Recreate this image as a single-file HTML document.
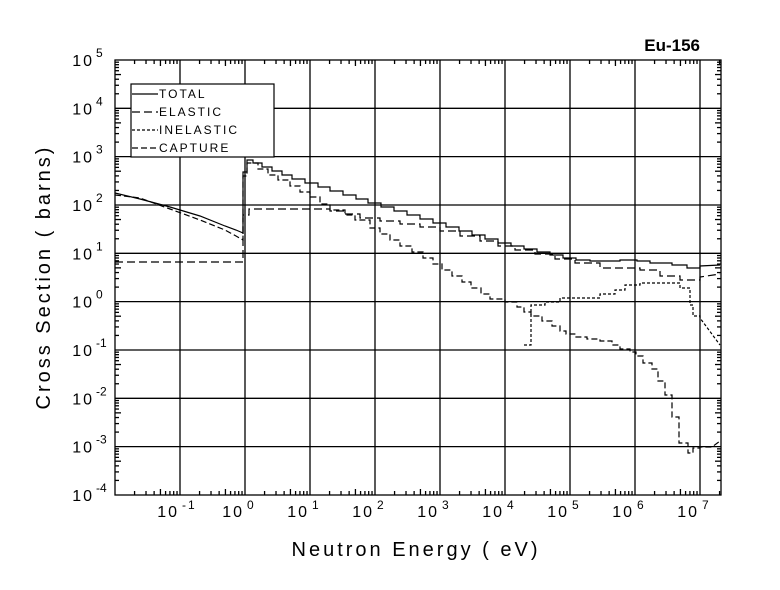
<!DOCTYPE html>
<html><head><meta charset="utf-8"><style>
body{margin:0;background:#fff}
svg{display:block}
text{font-family:"Liberation Sans",sans-serif;fill:#000}
</style></head><body>
<svg id="s" width="780" height="590" xmlns="http://www.w3.org/2000/svg">
<rect width="780" height="590" fill="#fff"/>
<g id="grid" stroke="#000" stroke-width="1.3" fill="none"></g>
<g id="curves" fill="none" stroke="#000" stroke-width="1.2">
<polyline points="115,193 140,199 170,207 200,216 225,226 236,230 243,233 243,172 247,172 247,160 253,160 253,163 262,163 262,167 272,167 272,171 282,171 282,175 292,175 292,179 305,179 305,183 318,183 318,187 330,187 330,191 343,191 343,195 356,195 356,199 368,199 368,203 381,203 381,207 394,207 394,211 407,211 407,215 420,215 420,219 433,219 433,223 446,223 446,227 459,227 459,231 472,231 472,235 485,235 485,239 498,239 498,243 511,243 511,246 524,246 524,249 537,249 537,252 550,252 550,255 563,255 563,258 576,258 576,260 590,260 590,261 620,261 620,260 637,260 637,261 650,261 650,263 672,263 672,265 687,265 687,268 700,268 700,266 720,265"/>
<polyline points="115,262 243,262 243,215 249,215 249,209 330,209 330,211 345,211 345,214 360,214 360,218 380,218 380,221 400,221 400,224 420,224 420,227 440,227 440,231 460,231 460,236 480,236 480,241 498,241 498,246 515,246 515,250 535,250 535,254 555,254 555,259 575,259 575,263 600,263 600,268 640,268 640,270 660,270 660,276 680,276 680,280 700,280 700,277 720,274" stroke-dasharray="8,4"/>
<polyline points="524,345 531,345 531,305 545,305 545,302 560,302 560,298 600,298 600,294 615,294 615,290 625,290 625,285 640,285 640,283 680,283 680,288 690,288 690,305 693,305 693,316 700,316 700,318 720,345" stroke-dasharray="3,2"/>
<polyline points="115,195 140,198 170,209 200,220 225,230 236,236 243,240 243,176 247,176 247,163 258,163 258,169 268,169 268,175 278,175 278,180 290,180 290,186 300,186 300,192 310,192 310,197 320,197 320,204 330,204 330,210 345,210 345,215 355,215 355,220 370,220 370,228 380,228 380,234 390,234 390,240 400,240 400,246 412,246 412,252 423,252 423,258 433,258 433,264 442,264 442,270 452,270 452,276 462,276 462,282 471,282 471,288 481,288 481,294 490,294 490,299 505,299 505,302 517,302 517,307 524,307 524,312 531,312 531,316 542,316 542,321 552,321 552,326 560,326 560,331 566,331 566,334 576,334 576,337 587,337 587,339 600,339 600,341 612,341 612,345 620,345 620,349 630,349 630,352 636,352 636,356 643,356 643,363 652,363 652,369 658,369 658,381 665,381 665,395 672,395 672,417 679,417 679,443 688,443 688,453 693,453 693,448 700,448 700,447 712,447 720,441" stroke-dasharray="6,3"/>
</g>
<rect x="131" y="84" width="143" height="73" fill="#fff" stroke="#000" stroke-width="1.2"/>
<g stroke="#000" stroke-width="1.2">
<line x1="132" y1="94" x2="158" y2="94"/>
<line x1="132" y1="112" x2="158" y2="112" stroke-dasharray="8,4"/>
<line x1="132" y1="130" x2="158" y2="130" stroke-dasharray="3,2"/>
<line x1="132" y1="148" x2="158" y2="148" stroke-dasharray="6,3"/>
</g>
<g font-size="12" letter-spacing="2">
<text x="159" y="98">TOTAL</text>
<text x="159" y="116">ELASTIC</text>
<text x="159" y="134">INELASTIC</text>
<text x="159" y="152">CAPTURE</text>
</g>
<text x="700" y="51" font-size="17" font-weight="bold" text-anchor="end">Eu-156</text>
<g id="labels" font-size="16"></g>
<text x="416" y="556" font-size="20" text-anchor="middle" letter-spacing="3">Neutron Energy ( eV)</text>
<text transform="translate(50,277) rotate(-90)" font-size="20" text-anchor="middle" letter-spacing="3">Cross Section ( barns)</text>
</svg>
<script>
const NS="http://www.w3.org/2000/svg";
const g=document.getElementById('grid'),L=document.getElementById('labels');
function el(p,tag,a,t){const e=document.createElementNS(NS,tag);for(const k in a)e.setAttribute(k,a[k]);if(t!==undefined)e.textContent=t;p.appendChild(e);return e;}
const X0=115,X1=721,Y0=60,Y1=495,px=65,py=48.33;
const xe=l=>180+(l+1)*px, ye=l=>Y0+(5-l)*py;
el(g,'rect',{x:X0,y:Y0,width:X1-X0,height:Y1-Y0});
for(let d=-1;d<=7;d++){const x=xe(d);el(g,'line',{x1:x,y1:Y0,x2:x,y2:Y1});
 el(L,'text',{x:x-1,y:517,'text-anchor':'end','letter-spacing':2},'10');el(L,'text',{x:x+2,y:509,'font-size':12,'letter-spacing':2},String(d));}
for(let d=-4;d<=5;d++){const y=ye(d);if(d>-4&&d<5)el(g,'line',{x1:X0,y1:y,x2:X1,y2:y});
 el(L,'text',{x:94,y:y+6,'text-anchor':'end','letter-spacing':2},'10');el(L,'text',{x:96,y:y-3,'font-size':12},String(d));}
for(let d=-2;d<8;d++)for(let m=2;m<10;m++){const x=xe(d+Math.log10(m));if(x>X1)continue;
 el(g,'line',{x1:x,y1:Y0,x2:x,y2:Y0+(m==5?6:4)});el(g,'line',{x1:x,y1:Y1,x2:x,y2:Y1-(m==5?6:4)});}
for(let d=-4;d<5;d++)for(let m=2;m<10;m++){const y=ye(d+Math.log10(m));
 el(g,'line',{x1:X0,y1:y,x2:X0+(m==5?6:4),y2:y});el(g,'line',{x1:X1,y1:y,x2:X1-(m==5?6:4),y2:y});}
</script>
</body></html>
